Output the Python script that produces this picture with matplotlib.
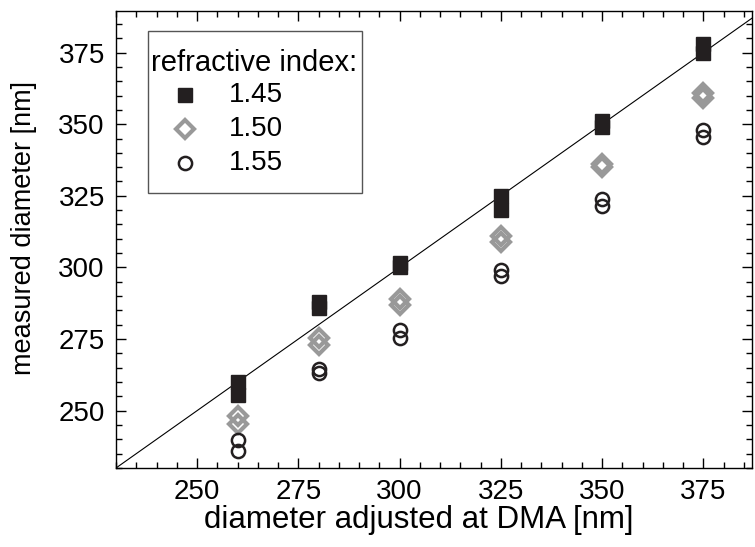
import matplotlib
matplotlib.use("Agg")
import matplotlib.pyplot as plt
from matplotlib.ticker import MultipleLocator
from matplotlib.patches import Rectangle

plt.rcParams['font.family'] = ['Liberation Sans', 'DejaVu Sans']

x_vals = [260, 260, 280, 280, 300, 300, 325, 325, 350, 350, 375, 375]
y_145 = [260, 255.5, 288, 286, 301.5, 300, 324.8, 320, 351, 349, 378, 375]
y_150 = [248, 245.4, 275.5, 273, 289, 287, 311, 309, 336, 335, 361, 359]
y_155 = [239.6, 236.1, 264.5, 263, 278, 275.5, 299, 297, 324, 321.5, 348, 345.5]
labels = ['1.45', '1.50', '1.55']
legend_title = 'refractive index:'
line_x = [230, 390]

W, H = 755, 547
fig = plt.figure(figsize=(W / 100, H / 100), dpi=100)
ax = fig.add_axes([116 / W, 1 - 468 / H, (752 - 116) / W, (468 - 11) / H])

def fx(px):
    return px / W

def fy(py):
    return 1 - py / H

ax.plot(line_x, line_x, color='black', lw=0.8, zorder=1)
styles = [
    dict(marker='s', ms=10, mfc='#231f20', mec='#231f20', mew=1),
    dict(marker='D', ms=9.5, mfc='none', mec='#999999', mew=3),
    dict(marker='o', ms=9.5, mfc='none', mec='#231f20', mew=1.8),
]
for yv, st in zip([y_145, y_150, y_155], styles):
    ax.plot(x_vals, yv, ls='none', zorder=3, **st)

ax.set_xlim(230, 387)
ax.set_ylim(230, 389.5)
ax.xaxis.set_major_locator(MultipleLocator(25))
ax.xaxis.set_minor_locator(MultipleLocator(5))
ax.yaxis.set_major_locator(MultipleLocator(25))
ax.yaxis.set_minor_locator(MultipleLocator(5))
ax.tick_params(which='both', direction='in', top=True, right=True, labelsize=20, width=1, pad=8)
ax.tick_params(which='major', length=7)
ax.tick_params(which='minor', length=4)
for s in ax.spines.values():
    s.set_linewidth(1.0)

ax.set_xlabel('diameter adjusted at DMA [nm]', fontsize=22.5)
ax.xaxis.set_label_coords((419 - 116) / 636, -(505 - 468) / 457)
ax.set_ylabel('measured diameter [nm]', fontsize=19.5)
ax.yaxis.set_label_coords((37 - 116) / 636, 1 - (228 - 11) / 457)

# legend box (drawn manually)
fig.patches.append(Rectangle((fx(148), fy(193)), fx(362) - fx(148), fy(31) - fy(193),
                             transform=fig.transFigure, fill=False, edgecolor='#555555', lw=1.0))
fig.text(fx(151), fy(63), legend_title, fontsize=21, va='center', ha='left')
row_y = [95, 129, 163]
for lab, st, ry in zip(labels, styles, row_y):
    ax.plot([fx(185)], [fy(ry)], transform=fig.transFigure, ls='none', clip_on=False, **st)
    fig.text(fx(229), fy(ry), lab, fontsize=20, va='center', ha='left')

fig.savefig('out.png', dpi=100)
